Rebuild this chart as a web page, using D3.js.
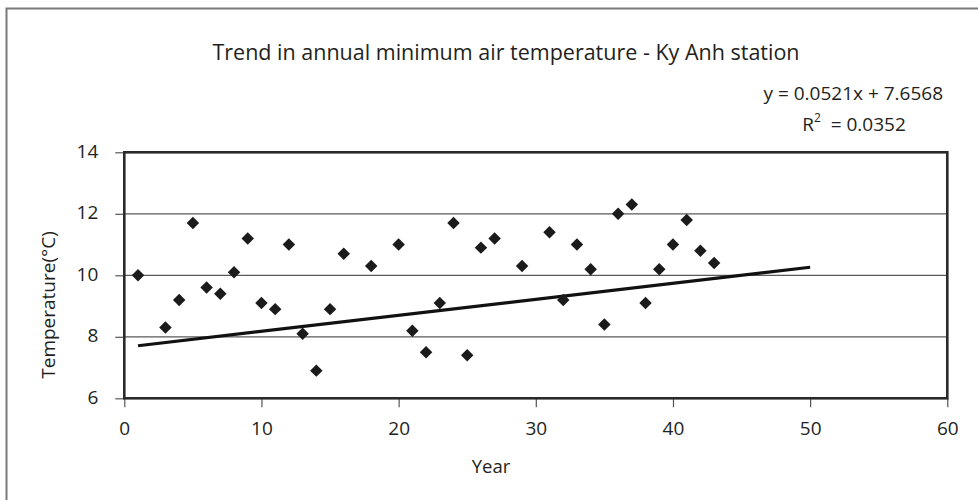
<!DOCTYPE html>
<html>
<head>
<meta charset="utf-8">
<script src="https://cdn.jsdelivr.net/npm/d3@7"></script>
<style>
  html, body { margin: 0; padding: 0; background: #fff; }
  svg { display: block; font-family: "Open Sans", "Noto Sans", sans-serif; fill: #231f20; }
</style>
</head>
<body>
<svg id="chart" width="978" height="500"></svg>
<script>
// Annual minimum air temperature, Ky Anh station (year index, °C)
const years = [1, 3, 4, 5, 6, 7, 8, 9, 10, 11, 12, 13, 14, 15, 16, 18, 20, 21, 22, 23,
               24, 25, 26, 27, 29, 31, 32, 33, 34, 35, 36, 37, 38, 39, 40, 41, 42, 43];
const minTemps = [10.0, 8.3, 9.2, 11.7, 9.6, 9.4, 10.1, 11.2, 9.1, 8.9, 11.0, 8.1, 6.9, 8.9, 10.7, 10.3, 11.0, 8.2, 7.5, 9.1,
                  11.7, 7.4, 10.9, 11.2, 10.3, 11.4, 9.2, 11.0, 10.2, 8.4, 12.0, 12.3, 9.1, 10.2, 11.0, 11.8, 10.8, 10.4];

// Linear trend as reported on the chart
const slope = 0.0521;
const intercept = 7.6568;
const rSquared = 0.0352;
const trendRange = [1, 50];

const xTicks = [0, 10, 20, 30, 40, 50, 60];
const yTicks = [6, 8, 10, 12, 14];
const gridValues = [8, 10, 12];

const title = "Trend in annual minimum air temperature - Ky Anh station";
const xTitle = "Year";
const yTitle = "Temperature(°C)";

const svg = d3.select("#chart");
const ink = "#231f20";

// Outer chart frame
svg.append("rect")
  .attr("x", 6.5).attr("y", 8.5)
  .attr("width", 1000).attr("height", 600)
  .attr("fill", "none")
  .attr("stroke", "#7a7a7a")
  .attr("stroke-width", 2);

const plot = { left: 124.3, right: 947.3, top: 152.3, bottom: 398.3 };

const x = d3.scaleLinear().domain([0, 60]).range([plot.left, plot.right]);
const y = d3.scaleLinear().domain([6, 14]).range([plot.bottom, plot.top]);

// Horizontal gridlines
svg.append("g")
  .selectAll("line")
  .data(gridValues)
  .join("line")
  .attr("x1", plot.left).attr("x2", plot.right)
  .attr("y1", d => y(d)).attr("y2", d => y(d))
  .attr("stroke", "#5a5a5a")
  .attr("stroke-width", 1.2);

// Y axis (ticks and labels, outside the plot box)
const yAxis = svg.append("g")
  .attr("transform", `translate(${plot.left},0)`)
  .call(d3.axisLeft(y).tickValues(yTicks).tickSize(9).tickPadding(17).tickFormat(d3.format("d")));
yAxis.select(".domain").remove();
yAxis.selectAll(".tick line").attr("stroke", "#555").attr("stroke-width", 1.2);
yAxis.selectAll(".tick text")
  .attr("font-family", "Open Sans, sans-serif")
  .attr("font-size", 19).attr("fill", ink).attr("dy", "0.26em");

// X axis
const xAxis = svg.append("g")
  .attr("transform", `translate(0,${plot.bottom})`)
  .call(d3.axisBottom(x).tickValues(xTicks).tickSize(9).tickPadding(14).tickFormat(d3.format("d")));
xAxis.select(".domain").remove();
xAxis.selectAll(".tick line").attr("stroke", "#555").attr("stroke-width", 1.2);
xAxis.selectAll(".tick text")
  .attr("font-family", "Open Sans, sans-serif")
  .attr("font-size", 19).attr("fill", ink);

// Plot area border
svg.append("rect")
  .attr("x", plot.left).attr("y", plot.top)
  .attr("width", plot.right - plot.left).attr("height", plot.bottom - plot.top)
  .attr("fill", "none")
  .attr("stroke", "#2a2a2a")
  .attr("stroke-width", 2.6);

// Trend line
const trend = trendRange.map(v => [v, slope * v + intercept]);
svg.append("path")
  .datum(trend)
  .attr("d", d3.line().x(d => x(d[0])).y(d => y(d[1])))
  .attr("fill", "none")
  .attr("stroke", "#111")
  .attr("stroke-width", 3.2);

// Observations as diamonds
const diamond = d3.symbol().type(d3.symbolSquare).size(78);
svg.append("g")
  .selectAll("path")
  .data(years.map((yr, i) => [yr, minTemps[i]]))
  .join("path")
  .attr("d", diamond)
  .attr("transform", d => `translate(${x(d[0])},${y(d[1])}) rotate(45)`)
  .attr("fill", "#1b1b1b");

// Titles
svg.append("text")
  .attr("x", 506).attr("y", 60)
  .attr("text-anchor", "middle")
  .attr("font-size", 21.5)
  .text(title);

svg.append("text")
  .attr("x", 491).attr("y", 473)
  .attr("text-anchor", "middle")
  .attr("font-size", 18.5)
  .text(xTitle);

svg.append("text")
  .attr("transform", "translate(55,305) rotate(-90)")
  .attr("text-anchor", "middle")
  .attr("font-size", 19)
  .text(yTitle);

// Regression equation and R²
svg.append("text")
  .attr("x", 943).attr("y", 100)
  .attr("text-anchor", "end")
  .attr("font-size", 19)
  .text(`y = ${slope}x + ${intercept}`);

const r2 = svg.append("text")
  .attr("x", 854).attr("y", 131)
  .attr("text-anchor", "middle")
  .attr("font-size", 19)
  .attr("xml:space", "preserve");
r2.append("tspan").text("R");
r2.append("tspan").attr("dy", -9).attr("font-size", 12).text("2");
r2.append("tspan").attr("dy", 9).text(`  = ${rSquared}`);
</script>
</body>
</html>
